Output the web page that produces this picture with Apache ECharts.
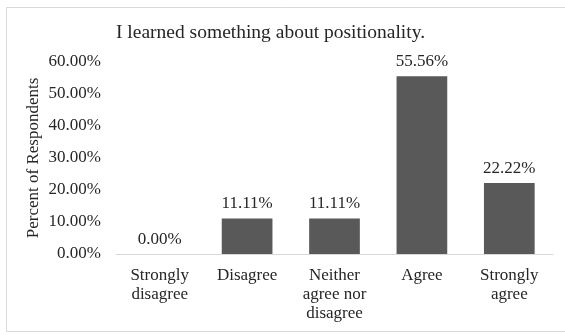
<!DOCTYPE html>
<html>
<head>
<meta charset="utf-8">
<script src="https://cdn.jsdelivr.net/npm/echarts@6/dist/echarts.min.js"></script>
<style>html,body{margin:0;padding:0;background:#fff}#c{width:565px;height:335px}</style>
</head>
<body>
<div id="c"></div>
<script>
const categories = ['Strongly\ndisagree', 'Disagree', 'Neither\nagree nor\ndisagree', 'Agree', 'Strongly\nagree'];
const values = [0.00, 11.11, 11.11, 55.56, 22.22];
const yTicks = [0, 10, 20, 30, 40, 50, 60];
const titleText = 'I learned something about positionality.';
const yAxisName = 'Percent of Respondents';

const font = '"Liberation Serif", "Times New Roman", serif';
const fs = 17;
const chart = echarts.init(document.getElementById('c'), null, {renderer: 'canvas'});
chart.setOption({
  animation: false,
  textStyle: {fontFamily: font},
  graphic: [{
    type: 'rect', shape: {x: 6.5, y: 7.5, width: 570, height: 324},
    style: {fill: 'none', stroke: '#d9d9d9', lineWidth: 1}, silent: true
  }],
  title: {
    text: titleText, left: 111, top: 18,
    textStyle: {fontFamily: font, fontSize: 19.5, fontWeight: 'normal', color: '#262626'}
  },
  grid: {left: 116, right: 12, top: 62, bottom: 81, containLabel: false},
  xAxis: {
    type: 'category', data: categories,
    axisLine: {lineStyle: {color: '#d9d9d9', width: 1}},
    axisTick: {show: false},
    axisLabel: {fontFamily: font, fontSize: fs, color: '#262626', margin: 12, lineHeight: 19, interval: 0}
  },
  yAxis: {
    type: 'value', min: yTicks[0], max: yTicks[yTicks.length - 1], interval: 10,
    name: yAxisName, nameLocation: 'middle', nameGap: 74, nameRotate: 90, nameMoveOverlap: false,
    nameTextStyle: {fontFamily: font, fontSize: fs, color: '#262626'},
    splitLine: {show: false},
    axisLine: {show: false}, axisTick: {show: false},
    axisLabel: {fontFamily: font, fontSize: fs, color: '#262626', margin: 15,
      formatter: v => v.toFixed(2) + '%'}
  },
  series: [{
    type: 'bar', data: values, barWidth: '58%',
    itemStyle: {color: '#595959'},
    label: {show: true, position: 'top', distance: 6, fontFamily: font, fontSize: fs, color: '#262626',
      formatter: p => p.value.toFixed(2) + '%'}
  }]
});
</script>
</body>
</html>
